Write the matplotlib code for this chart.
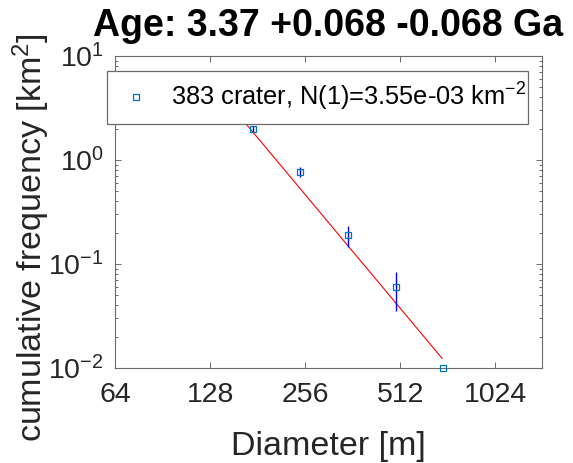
import numpy as np
import matplotlib
matplotlib.use("Agg")
import matplotlib.pyplot as plt
from matplotlib.ticker import FixedLocator, FixedFormatter, LogLocator, NullFormatter, NullLocator

plt.rcParams['font.family'] = ['Liberation Sans', 'DejaVu Sans']
plt.rcParams['mathtext.fontset'] = 'custom'
plt.rcParams['mathtext.rm'] = 'Liberation Sans'
plt.rcParams['mathtext.it'] = 'Liberation Sans:italic'
plt.rcParams['mathtext.bf'] = 'Liberation Sans:bold'

# crater size-frequency data
diam = [175, 247, 349, 495, 698]
cumfreq = [2.0, 0.77, 0.19, 0.06, 0.01]
cumerr = [0.14, 0.088, 0.044, 0.0245, 0.0]

# fitted isochron, end points
fit_d = [142, 694]
fit_n = [3.95, 0.0124]

xticks = [64, 128, 256, 512, 1024]
xticklabels = ['64', '128', '256', '512', '1024']
yticks = [1e-2, 1e-1, 1e0, 1e1]
yticklabels = [r'$10^{-2}$', r'$10^{-1}$', r'$10^{0}$', r'$10^{1}$']

title = 'Age: 3.37 +0.068 -0.068 Ga'
legend_label = r'383 crater, N(1)=3.55e-03 km$^{-2}$'

W, H = 573, 463
fig = plt.figure(figsize=(W / 100, H / 100), dpi=100)
ax = fig.add_axes([115 / W, 1 - 368 / H, 427 / W, 312 / H])

dark = '#262626'
edge = '#6a6a6a'

ax.plot(fit_d, fit_n, color='red', lw=0.8, zorder=2)
ax.errorbar(diam, cumfreq, yerr=cumerr, fmt='none', ecolor='blue', elinewidth=1.0,
            capsize=0, zorder=3)
pts, = ax.plot(diam, cumfreq, 's', mfc='none', mec='#0072BD', ms=5, mew=0.9,
               zorder=4, clip_on=False, label=legend_label)

ax.set_xscale('log', base=2)
ax.set_yscale('log')
ax.set_xlim(64, 1438)
ax.set_ylim(1e-2, 1e1)

ax.xaxis.set_major_locator(FixedLocator(xticks))
ax.xaxis.set_major_formatter(FixedFormatter(xticklabels))
ax.xaxis.set_minor_locator(NullLocator())
ax.yaxis.set_major_locator(FixedLocator(yticks))
ax.yaxis.set_major_formatter(FixedFormatter(yticklabels))
ax.yaxis.set_minor_locator(LogLocator(base=10, subs=np.arange(2, 10), numticks=20))
ax.yaxis.set_minor_formatter(NullFormatter())

ax.tick_params(which='both', direction='in', top=True, right=True, color=edge,
               labelcolor=dark, labelsize=20.5, width=0.7)
ax.tick_params(which='major', length=4)
ax.tick_params(which='minor', length=2.2)
ax.tick_params(axis='x', pad=10)
ax.tick_params(axis='y', pad=8)
for sp in ax.spines.values():
    sp.set_color(edge)
    sp.set_linewidth(0.8)

leg = ax.legend(handles=[pts], loc='upper left',
                bbox_to_anchor=(107 / W, 1 - 119 / H, 421 / W, 48 / H),
                bbox_transform=fig.transFigure, mode='expand', borderaxespad=0,
                fontsize=18.3, frameon=True, fancybox=False, edgecolor=edge,
                framealpha=1, handlelength=1.5, handletextpad=0.6, borderpad=0.4)
leg.get_frame().set_linewidth(0.9)
for t in leg.get_texts():
    t.set_color('black')

fig.text(328 / W, 1 - 36 / H, title, ha='center', va='baseline', fontsize=27,
         fontweight='bold', color='black')
fig.text(328 / W, 1 - 455 / H, 'Diameter [m]', ha='center', va='baseline',
         fontsize=24.5, color=dark)
fig.text(31 / W, 1 - 238 / H, r'cumulative frequency [km$^2$]', rotation=90,
         ha='center', va='center', fontsize=24.5, color=dark)

fig.savefig('out.png', dpi=100)
